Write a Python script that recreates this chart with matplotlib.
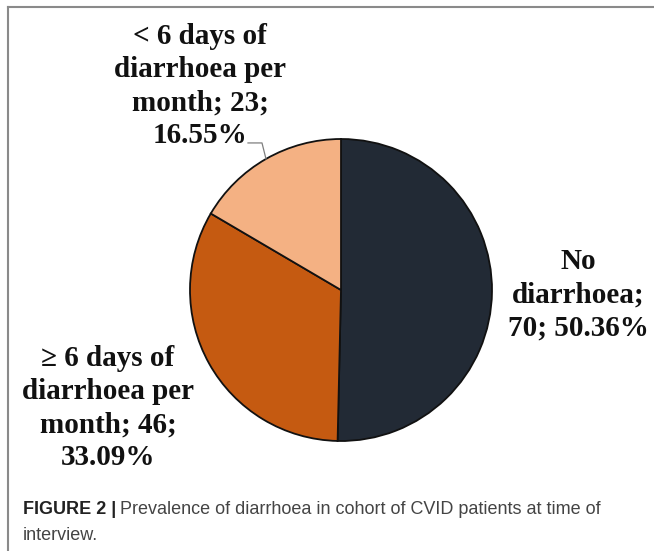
import numpy as np
import matplotlib
matplotlib.use("Agg")
import matplotlib.pyplot as plt
from matplotlib.lines import Line2D

# données
categories = ["No\ndiarrhoea;", "\u2265 6 days of\ndiarrhoea per\nmonth;", "< 6 days of\ndiarrhoea per\nmonth;"]
counts = [70, 46, 23]
percents = [50.36, 33.09, 16.55]
colors = ["#222a35", "#c55a11", "#f4b183"]

W, H = 654, 551
fig = plt.figure(figsize=(W / 100, H / 100), dpi=100)

# cadre gris (haut et gauche)
fig.add_artist(Line2D([8 / W, 8 / W], [0, 1 - 7 / H], color="#8a8a8a", lw=1.5))
fig.add_artist(Line2D([8 / W, 1], [1 - 7 / H, 1 - 7 / H], color="#8a8a8a", lw=1.5))

# camembert : centre (341, 290) px, rayon 151 px
cx, cy, r = 341, 290, 151
ax = fig.add_axes([(cx - r) / W, (H - cy - r) / H, 2 * r / W, 2 * r / H])
wedges, _ = ax.pie(counts, colors=colors, startangle=90, counterclock=False,
                   wedgeprops=dict(edgecolor="#111111", linewidth=1.3))
ax.set_xlim(-1, 1)
ax.set_ylim(-1, 1)
ax.set_aspect("equal")
ax.axis("off")

serif = "Liberation Serif"
fs = 21


def label(i):
    if i == 0:
        return f"{categories[i]}\n{counts[i]}; {percents[i]:.2f}%"
    return f"{categories[i]} {counts[i]};\n{percents[i]:.2f}%"


# positions des étiquettes (px)
pos = [(578, 295), (108, 408), (200, 86)]
for i, (px, py) in enumerate(pos):
    fig.text(px / W, 1 - py / H, label(i), ha="center", va="center",
             fontsize=fs, fontweight="bold", family=serif, color="#111111",
             linespacing=1.3)

# trait de rappel pour la petite part
w = wedges[2]
mid = np.deg2rad((w.theta1 + w.theta2) / 2)
ex, ey = np.cos(mid), np.sin(mid)
kx, ky = ex - 4 / r, ey + 16 / r
ax.add_line(Line2D([ex, kx, (248 - cx) / r], [ey, ky, ky], color="#7f7f7f",
                   lw=0.9, clip_on=False))

# légende de la figure
cap_font = "Liberation Sans"
cfs = 13
t1 = fig.text(23 / W, 1 - 510 / H, "FIGURE 2 |", ha="left", va="center",
              fontsize=cfs, fontweight="bold", family=cap_font, color="#222222")
fig.canvas.draw()
bb = t1.get_window_extent()
fig.text((bb.x1 + 4) / W, 1 - 510 / H,
         "Prevalence of diarrhoea in cohort of CVID patients at time of",
         ha="left", va="center", fontsize=cfs, family=cap_font, color="#444444")
fig.text(23 / W, 1 - 535 / H, "interview.", ha="left", va="center",
         fontsize=cfs, family=cap_font, color="#444444")

fig.savefig("out.png", dpi=100)
